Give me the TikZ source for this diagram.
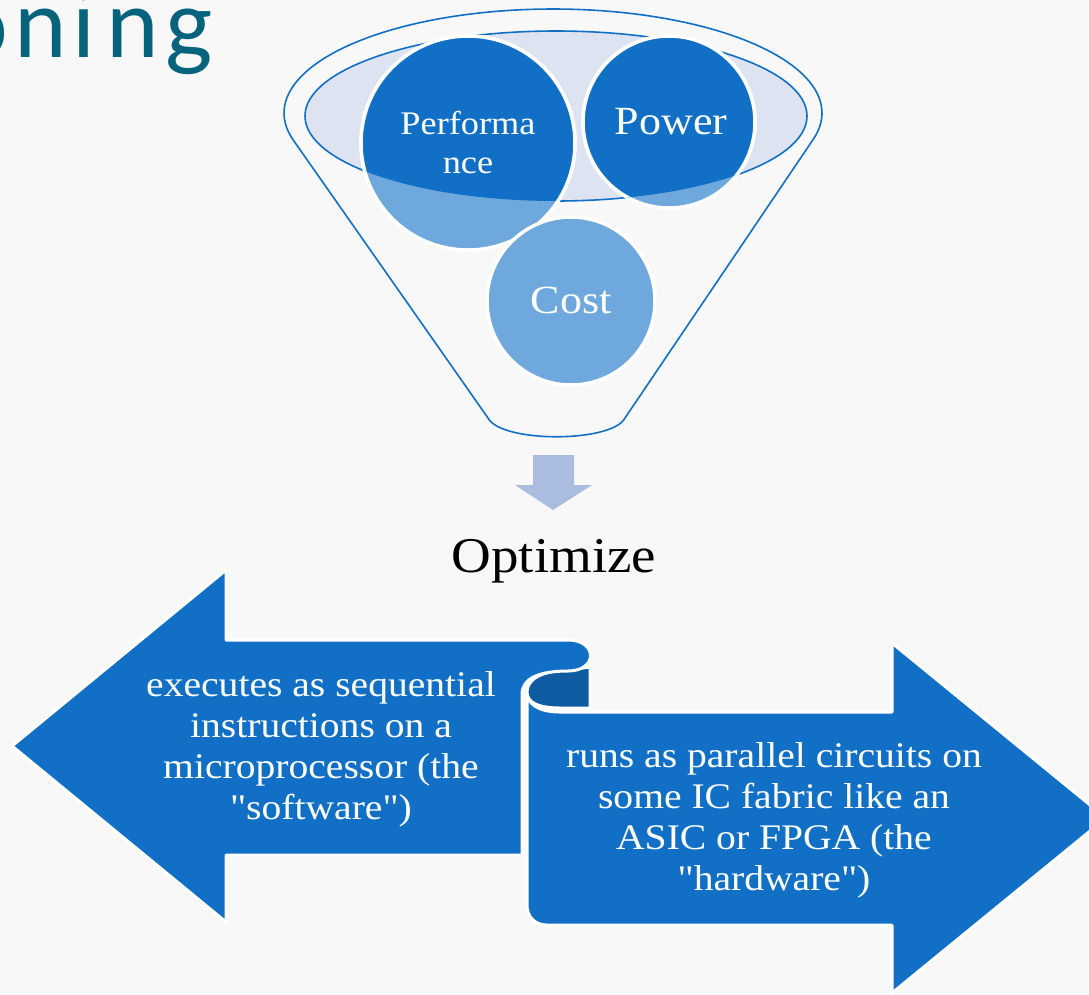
\documentclass[tikz,border=0pt]{standalone}
\usepackage{fontspec}
\setmainfont{Liberation Serif}
\newfontfamily\bodyfont[FakeStretch=1.1]{Liberation Serif}
\newfontfamily\titlefont{Carlito}
\definecolor{bgcol}{HTML}{F8F8F8}
\definecolor{mainblue}{HTML}{1170C6}
\definecolor{darkcurl}{HTML}{0F5CA3}
\definecolor{lightblue}{HTML}{6FA8DC}
\definecolor{lavender}{HTML}{DEE3F1}
\definecolor{downblue}{HTML}{AABDE1}
\definecolor{titleteal}{HTML}{05637B}
\tikzset{
  funnelline/.style={draw=mainblue, line width=1.6pt},
  circlight/.style={fill=lightblue, draw=white, line width=3.5pt},
  circdark/.style={fill=mainblue, draw=white, line width=3.5pt},
  scrollshape/.style={fill=mainblue, draw=white, line width=3pt, line join=round},
  curlshape/.style={fill=darkcurl, draw=white, line width=3pt, line join=round},
  whitelabel/.style={text=white, inner sep=0pt, align=center, font=\bodyfont},
  blacklabel/.style={text=black, inner sep=0pt, align=center, font=\bodyfont},
}
\begin{document}
\begin{tikzpicture}[x=1pt,y=-1pt]
\useasboundingbox (0,0) rectangle (1089,994);
\clip (0,0) rectangle (1089,994);
\fill[bgcol] (0,0) rectangle (1089,994);

% title fragment
\node[anchor=base east, inner sep=0pt, text=titleteal, font=\titlefont\fontsize{100}{100}\selectfont] (title) at (213,57) {o\kern6pt n\kern5pt i\kern11pt n\kern7pt g};

% funnel outline
\draw[funnelline] plot[domain=165:375,samples=90] ({553+269*cos(\x)},{113+104*sin(\x)})
  -- (625,418) .. controls (612,443) and (501,443) .. (488,418) -- cycle;

% inner ellipse
\fill[lavender] (556,116) ellipse [x radius=251, y radius=85];
\draw[funnelline] (556,116) ellipse [x radius=251, y radius=85];

% circles (light parts)
\path[circlight] (468,143) circle [radius=107];
\path[circlight] (669,122) circle [radius=86];
\path[circlight] (571,301) circle [radius=84];
% dark parts above the front rim of the funnel mouth
\begin{scope}
  \clip plot[domain=0:180,samples=90] ({556+251*cos(\x)},{116+85*sin(\x)}) -- (280,-20) -- (830,-20) -- cycle;
  \path[circdark] (468,143) circle [radius=107];
  \path[circdark] (669,122) circle [radius=86];
\end{scope}

\node[whitelabel, font=\bodyfont\fontsize{33}{39}\selectfont] (perf) at (468,143) {Performa\\nce};
\node[whitelabel, font=\bodyfont\fontsize{40}{40}\selectfont] (power) at (671,122) {Power};
\node[whitelabel, font=\bodyfont\fontsize{40}{40}\selectfont] (cost) at (571,300) {Cost};

% down arrow
\fill[downblue] (533,455) -- (574,455) -- (574,485) -- (592,485) -- (553,510) -- (515,485) -- (533,485) -- cycle;

\node[blacklabel, font=\bodyfont\fontsize{50}{50}\selectfont] (optimize) at (554,561) {Optimize};

% right arrow
\path[scrollshape] (527,692) .. controls (527,703) and (537,712) .. (560,712) -- (892,712) -- (892,643)
  -- (1106,818) -- (892,993) -- (892,925) -- (547,925) .. controls (535,925) and (527,917) .. (527,905) -- cycle;
% dark curl
\path[curlshape] (590,667) -- (590,708) -- (560,708) .. controls (537,708) and (527,702) .. (527,692)
  .. controls (527,680) and (540,671) .. (568,670) -- cycle;
% left arrow
\path[scrollshape] (12,746) -- (226,570) -- (226,640) -- (568,640) .. controls (598,640) and (598,671) .. (568,671)
  .. controls (540,671) and (522,678) .. (522,694) -- (522,855) -- (226,855) -- (226,922) -- cycle;

\node[whitelabel, font=\bodyfont\fontsize{36}{41}\selectfont] (sw) at (321,749)
  {executes as sequential\\instructions on a\\microprocessor (the\\"software")};
\node[whitelabel, font=\bodyfont\fontsize{36}{41}\selectfont] (hw) at (774,820)
  {runs as parallel circuits on\\some IC fabric like an\\ASIC or FPGA (the\\"hardware")};
\end{tikzpicture}
\end{document}
